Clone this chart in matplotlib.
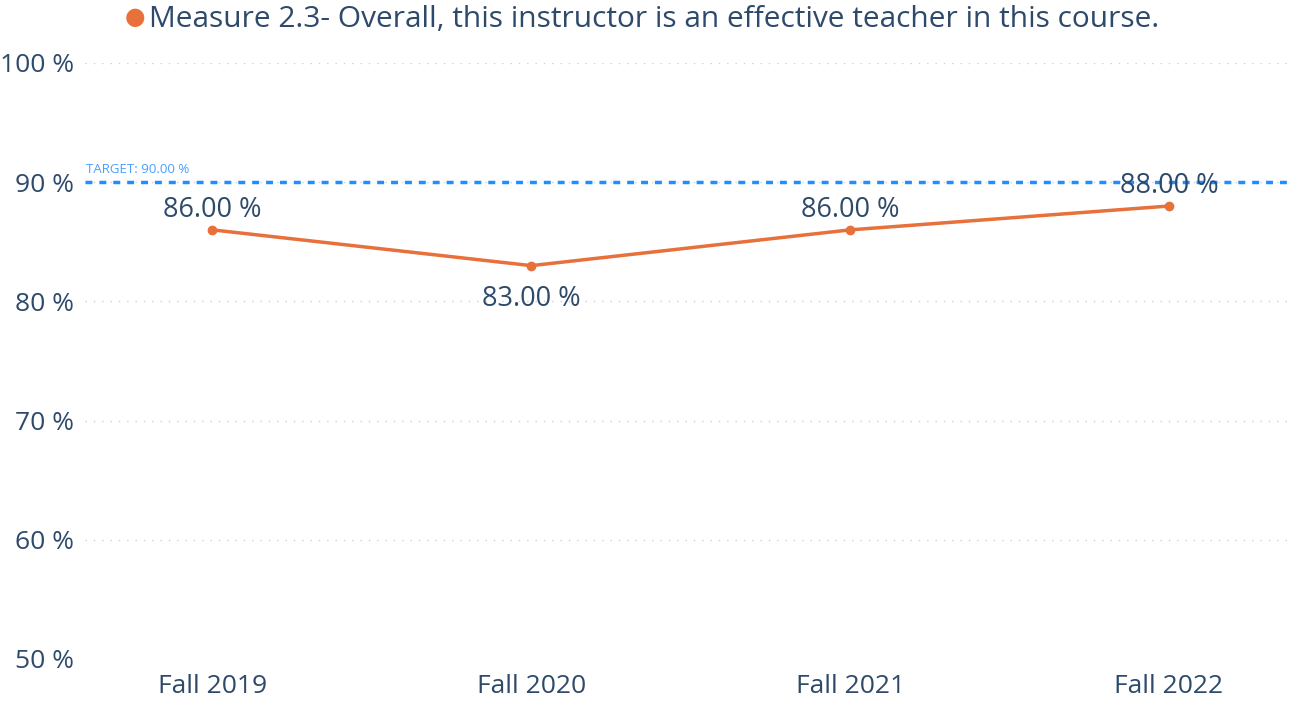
import matplotlib
matplotlib.use("Agg")
import matplotlib.pyplot as plt

# data
terms = ["Fall 2019", "Fall 2020", "Fall 2021", "Fall 2022"]
scores = [86.0, 83.0, 86.0, 88.0]
target = 90.0
yticks = [50, 60, 70, 80, 90, 100]
series_name = "Measure 2.3- Overall, this instructor is an effective teacher in this course."

plt.rcParams['font.family'] = ['Open Sans', 'DejaVu Sans']
txt = "#2E4A6B"
orange = "#E8703A"
blue = "#1F8FFF"

fig = plt.figure(figsize=(12.93, 7.07), dpi=100)
ax = fig.add_axes([0.0657, 0.0679, 0.932, 0.843])

x = list(range(len(terms)))
ax.plot(x, scores, color=orange, linewidth=2.5, marker="o", markersize=6, zorder=3)
ax.axhline(target, color=blue, linewidth=2.5, linestyle=(0, (2, 2)), zorder=2)
ax.text(-0.397, target + 0.55, f"TARGET: {target:.2f} %", color="#4A9EFF",
        fontsize=9.5, va="bottom", ha="left")

# labels: below the point for a dip, above otherwise
for i, v in enumerate(scores):
    if i > 0 and v < scores[i - 1] and (i == len(scores) - 1 or v < scores[i + 1]):
        ax.text(i, v - 1.6, f"{v:.2f} %", ha="center", va="top", fontsize=19.5, color=txt, zorder=4)
    else:
        ax.text(i, v + 0.5, f"{v:.2f} %", ha="center", va="bottom", fontsize=19.5, color=txt, zorder=4)

ax.set_xlim(-0.4, 3.38)
ax.set_ylim(50, 100)
ax.set_xticks(x)
ax.set_xticklabels(terms)
ax.set_yticks(yticks)
ax.set_yticklabels([f"{t} %" for t in yticks])
ax.tick_params(length=0, labelsize=19, labelcolor=txt)
ax.tick_params(axis="y", pad=8)
ax.tick_params(axis="x", pad=11)
ax.grid(axis="y", color="#D0D0D0", linestyle=(0, (1, 5)), linewidth=1)
for s in ax.spines.values():
    s.set_visible(False)

fig.text(0.0965, 0.974, "●", color=orange, fontsize=17, ha="left", va="center")
fig.text(0.1155, 0.972, series_name, color=txt, fontsize=21.5, ha="left", va="center")

fig.savefig("out.png", dpi=100)
